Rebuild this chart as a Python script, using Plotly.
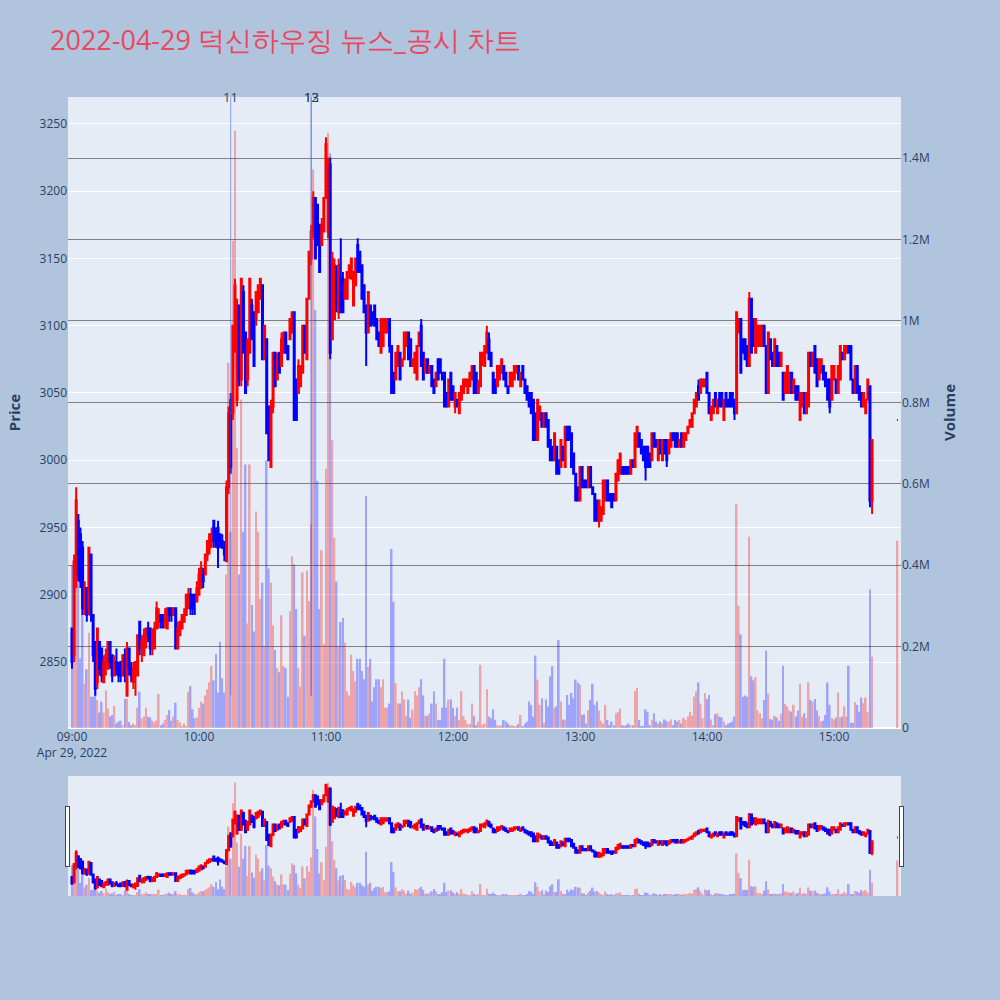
import pandas as pd
import plotly.graph_objects as go

# ---- data (1-minute candles, 2022-04-29, 09:00-15:18 + closing auction 15:30) ----
open_ = [
    2875,2855,2915,2955,2945,2935,2890,2905,2890,2930,
    2885,2865,2835,2865,2860,2835,2850,2845,2865,2855,
    2840,2850,2845,2850,2840,2855,2825,2860,2845,2835,
    2845,2840,2880,2860,2855,2865,2875,2875,2860,2860,
    2875,2880,2885,2885,2880,2875,2890,2890,2885,2890,
    2860,2870,2875,2880,2885,2890,2900,2900,2900,2895,
    2900,2905,2915,2915,2930,2935,2940,2955,2945,2950,
    2945,2940,2935,2925,2980,3045,3035,3085,3045,3115,
    3060,3125,3095,3060,3080,3115,3110,3105,3110,3120,
    3130,3075,3090,3040,2995,3040,3080,3060,3080,3070,
    3080,3095,3085,3090,3095,3110,3060,3050,3055,3065,
    3100,3075,3120,3150,3170,3195,3190,3175,3160,3170,
    3195,3170,3220,3090,3105,3140,3110,3135,3135,3120,
    3120,3140,3135,3115,3130,3160,3155,3145,3130,3115,
    3095,3115,3110,3115,3105,3095,3080,3085,3095,3095,
    3105,3085,3065,3060,3070,3080,3070,3075,3085,3095,
    3090,3070,3065,3060,3085,3100,3080,3065,3075,3065,
    3070,3060,3055,3075,3075,3065,3065,3050,3040,3065,
    3055,3040,3045,3035,3045,3050,3055,3050,3055,3060,
    3070,3065,3050,3055,3075,3070,3080,3090,3080,3065,
    3060,3055,3060,3065,3070,3065,3055,3055,3055,3060,
    3065,3070,3055,3070,3060,3055,3050,3050,3045,3035,
    3015,3030,3035,3025,3035,3030,3015,3010,3000,3010,
    3000,2995,3010,2995,3025,3025,3020,3005,2990,2980,
    2970,2995,2985,2985,2980,2995,2980,2975,2970,2955,
    2955,2960,2970,2985,2975,2975,2975,2970,2985,2990,
    2995,2995,2995,2995,2990,3000,2995,3010,3020,3015,
    3010,3010,3010,3005,3000,3020,3015,3000,3015,3000,
    3015,3015,3005,3010,3020,3020,3020,3010,3020,3010,
    3015,3020,3025,3025,3035,3040,3055,3050,3055,3055,
    3065,3050,3030,3035,3050,3035,3050,3050,3030,3050,
    3045,3050,3050,3045,3035,3095,3105,3090,3090,3085,
    3070,3120,3105,3080,3085,3085,3085,3100,3085,3050,
    3090,3080,3070,3085,3080,3070,3065,3050,3050,3050,
    3065,3050,3055,3055,3030,3040,3050,3035,3040,3080,
    3070,3085,3075,3060,3065,3070,3065,3060,3060,3045,
    3060,3060,3050,3060,3080,3075,3080,3085,3085,3060,
    3050,3070,3055,3050,3040,3035,3045,3055,2970,3030,
]
high_ = [
    2875,2930,2980,2960,2950,2940,2910,2905,2935,2930,
    2885,2865,2875,2865,2860,2855,2860,2865,2865,2855,
    2855,2860,2850,2850,2855,2860,2865,2860,2850,2850,
    2850,2870,2880,2870,2875,2875,2880,2875,2875,2880,
    2895,2890,2885,2885,2890,2890,2890,2890,2890,2890,
    2880,2880,2885,2890,2900,2905,2905,2900,2900,2910,
    2920,2925,2920,2930,2940,2945,2950,2955,2950,2955,
    2945,2945,2940,2985,3040,3050,3100,3135,3120,3115,
    3135,3130,3095,3090,3135,3120,3110,3125,3130,3135,
    3130,3100,3090,3040,3045,3080,3080,3080,3080,3095,
    3095,3095,3085,3105,3110,3110,3060,3075,3070,3100,
    3100,3120,3155,3175,3200,3195,3190,3175,3180,3195,
    3240,3225,3225,3155,3150,3145,3150,3165,3140,3135,
    3140,3145,3150,3140,3150,3165,3155,3145,3130,3115,
    3125,3115,3110,3115,3105,3095,3105,3105,3105,3105,
    3105,3085,3065,3080,3085,3080,3075,3095,3095,3095,
    3090,3075,3080,3085,3095,3105,3080,3075,3075,3070,
    3070,3060,3065,3075,3075,3065,3065,3050,3060,3065,
    3055,3050,3045,3050,3055,3060,3060,3060,3065,3070,
    3070,3065,3060,3080,3080,3085,3100,3095,3080,3065,
    3060,3070,3070,3075,3070,3065,3055,3065,3065,3070,
    3070,3070,3065,3070,3060,3055,3050,3050,3045,3035,
    3045,3040,3035,3035,3035,3030,3015,3010,3020,3010,
    3000,3015,3010,3025,3025,3025,3020,3005,2990,2980,
    2995,2995,2985,2985,2995,2995,2980,2975,2970,2970,
    2965,2985,2985,2985,2975,2975,2975,2990,3000,3005,
    2995,2995,2995,2995,3000,3000,3020,3025,3020,3015,
    3010,3010,3010,3005,3020,3020,3015,3015,3015,3015,
    3015,3015,3015,3020,3020,3020,3020,3015,3020,3020,
    3020,3025,3030,3035,3045,3050,3060,3060,3060,3060,
    3065,3050,3040,3045,3050,3045,3050,3050,3045,3050,
    3045,3050,3050,3045,3110,3105,3105,3090,3090,3085,
    3125,3120,3105,3105,3100,3100,3100,3100,3085,3095,
    3090,3080,3090,3085,3080,3080,3065,3065,3070,3065,
    3065,3060,3055,3055,3050,3050,3050,3050,3080,3080,
    3080,3085,3075,3075,3075,3070,3065,3060,3060,3070,
    3070,3060,3070,3085,3080,3085,3085,3085,3085,3060,
    3070,3070,3055,3050,3050,3045,3060,3055,3015,3030,
]
low_ = [
    2845,2850,2905,2910,2905,2885,2885,2880,2885,2880,
    2850,2825,2830,2840,2835,2835,2840,2845,2845,2835,
    2840,2840,2835,2835,2840,2835,2825,2840,2835,2830,
    2825,2840,2855,2850,2855,2860,2865,2855,2855,2860,
    2875,2875,2875,2875,2875,2875,2880,2880,2885,2860,
    2860,2870,2875,2880,2885,2890,2885,2885,2885,2895,
    2900,2905,2905,2915,2925,2930,2935,2935,2935,2920,
    2935,2935,2925,2925,2975,2990,3030,3080,3040,3055,
    3055,3080,3050,3055,3080,3090,3070,3100,3110,3120,
    3075,3075,3020,3000,2995,3035,3055,3060,3065,3070,
    3080,3080,3075,3090,3095,3030,3030,3050,3055,3065,
    3080,3075,3120,3145,3165,3150,3160,3140,3160,3170,
    3195,3165,3075,3090,3105,3110,3105,3110,3110,3120,
    3120,3135,3135,3115,3130,3140,3140,3120,3110,3070,
    3095,3100,3100,3100,3090,3085,3080,3085,3095,3095,
    3080,3050,3050,3060,3070,3060,3070,3075,3085,3075,
    3070,3070,3065,3060,3085,3070,3060,3065,3065,3065,
    3055,3050,3055,3060,3065,3060,3040,3040,3040,3045,
    3045,3035,3040,3035,3045,3050,3055,3050,3055,3060,
    3050,3050,3050,3055,3070,3070,3080,3075,3070,3050,
    3050,3055,3060,3065,3060,3055,3050,3055,3055,3060,
    3065,3060,3055,3060,3050,3045,3040,3035,3015,3015,
    3015,3030,3025,3025,3025,3010,3000,3000,3000,2990,
    2990,2995,3000,2995,3015,3015,2995,2990,2970,2970,
    2970,2980,2980,2980,2980,2980,2975,2955,2955,2950,
    2955,2960,2970,2970,2970,2965,2970,2970,2985,2990,
    2990,2990,2990,2990,2990,2995,2995,3010,3010,3005,
    3000,2985,2995,2995,3000,3010,3010,3000,3005,3000,
    3005,2995,3005,3010,3015,3010,3010,3010,3010,3010,
    3015,3020,3025,3025,3035,3040,3045,3050,3055,3055,
    3050,3035,3030,3035,3040,3035,3040,3040,3030,3040,
    3040,3040,3040,3030,3035,3095,3065,3080,3075,3070,
    3070,3080,3085,3080,3085,3085,3085,3085,3050,3050,
    3075,3070,3070,3070,3070,3070,3045,3050,3050,3050,
    3050,3050,3045,3045,3030,3040,3035,3035,3040,3070,
    3070,3065,3055,3060,3065,3060,3055,3045,3035,3045,
    3060,3050,3050,3060,3075,3075,3080,3080,3060,3050,
    3050,3050,3045,3040,3040,3035,3045,2965,2960,3030,
]
close_ = [
    2850,2925,2970,2915,2910,2890,2905,2885,2935,2885,
    2855,2830,2875,2845,2840,2850,2855,2865,2850,2840,
    2850,2845,2840,2840,2855,2840,2860,2845,2840,2845,
    2850,2870,2860,2865,2870,2875,2870,2860,2870,2875,
    2890,2885,2880,2880,2885,2890,2885,2885,2890,2860,
    2875,2880,2885,2885,2900,2900,2890,2890,2895,2905,
    2915,2920,2910,2930,2940,2945,2945,2940,2940,2935,
    2940,2935,2930,2980,3035,2995,3100,3130,3115,3060,
    3135,3080,3050,3090,3135,3090,3070,3125,3130,3135,
    3075,3100,3020,3000,3040,3080,3055,3075,3065,3090,
    3095,3080,3075,3105,3110,3030,3030,3070,3070,3100,
    3080,3120,3155,3170,3195,3150,3160,3140,3175,3195,
    3235,3220,3080,3150,3145,3115,3145,3110,3110,3130,
    3140,3145,3150,3140,3150,3140,3140,3120,3110,3095,
    3125,3100,3105,3100,3090,3085,3105,3105,3105,3105,
    3085,3050,3050,3080,3085,3060,3075,3095,3095,3075,
    3070,3075,3080,3085,3095,3070,3060,3075,3065,3070,
    3055,3050,3065,3060,3065,3060,3040,3040,3060,3045,
    3045,3050,3040,3050,3055,3060,3060,3060,3065,3070,
    3050,3050,3055,3080,3080,3085,3095,3075,3070,3050,
    3050,3070,3070,3075,3060,3055,3050,3065,3065,3070,
    3070,3060,3065,3060,3050,3045,3040,3035,3015,3015,
    3045,3040,3025,3035,3025,3010,3000,3000,3020,2990,
    2990,3015,3000,3025,3015,3015,2995,2990,2970,2970,
    2995,2980,2980,2980,2995,2980,2975,2955,2955,2970,
    2965,2985,2985,2970,2970,2965,2970,2990,3000,3005,
    2990,2990,2990,2990,3000,2995,3020,3025,3010,3005,
    3000,2995,2995,2995,3020,3010,3010,3015,3005,3015,
    3005,3000,3015,3020,3015,3010,3010,3015,3010,3020,
    3020,3025,3030,3035,3045,3050,3045,3060,3060,3060,
    3050,3035,3040,3045,3040,3045,3040,3040,3045,3040,
    3040,3040,3040,3035,3110,3105,3065,3080,3075,3070,
    3120,3080,3085,3105,3100,3100,3100,3085,3050,3095,
    3075,3070,3090,3070,3070,3080,3045,3065,3070,3065,
    3050,3060,3045,3045,3050,3050,3035,3050,3080,3070,
    3080,3065,3055,3075,3075,3060,3055,3045,3040,3070,
    3070,3050,3070,3085,3075,3085,3085,3080,3060,3050,
    3070,3050,3045,3040,3050,3045,3060,2970,3015,3030,
]
volume_thousands = [
    400,412,586,404,171,396,109,144,234,77,
    77,98,69,38,65,38,93,48,28,32,
    54,11,15,18,7,72,72,15,7,11,
    7,50,89,24,28,50,28,26,18,14,
    18,83,7,11,20,32,44,18,28,62,
    20,14,5,11,3,89,103,46,24,26,
    49,65,60,80,95,112,152,117,182,87,
    212,122,87,377,897,482,1197,1467,687,377,
    807,482,647,257,647,302,237,532,482,317,
    357,202,657,392,357,252,192,147,137,277,
    152,147,77,287,422,402,292,147,102,382,
    227,387,312,500,1372,1027,607,292,437,207,
    637,1462,1412,707,467,360,200,260,270,210,
    90,80,180,140,115,170,170,140,120,570,
    150,170,65,100,120,120,100,120,50,50,
    60,440,310,110,60,60,90,70,30,70,
    25,45,90,80,100,120,80,30,30,35,
    60,90,60,20,20,50,170,50,70,70,
    50,30,50,20,90,30,20,10,10,60,
    30,7,16,155,7,11,95,28,24,46,
    20,7,5,7,20,16,11,7,7,5,
    3,10,32,3,11,16,65,57,28,178,
    119,57,73,13,70,53,127,152,49,53,
    216,65,21,20,81,57,86,73,119,111,
    107,32,34,11,44,69,109,57,65,43,
    18,11,57,20,7,16,7,36,40,48,
    7,5,7,11,7,7,90,98,20,3,
    3,46,40,7,20,36,16,11,16,11,
    21,17,16,21,7,20,16,20,11,25,
    20,28,40,30,77,90,112,60,24,86,
    71,81,21,7,34,36,28,26,16,7,
    11,13,16,28,550,300,230,77,80,77,
    470,127,117,125,43,36,24,69,190,84,
    22,20,30,26,18,35,153,59,53,43,
    40,57,28,43,108,28,36,24,112,69,
    65,71,43,30,16,18,32,112,57,24,
    21,26,87,26,28,53,28,153,13,13,
    63,57,40,75,61,75,40,340,175,460,
]
session_start = "2022-04-29 09:00"
continuous_minutes = 379
closing_auction_time = "2022-04-29 15:30"

news_times = ["2022-04-29 10:15", "2022-04-29 10:53", "2022-04-29 10:53"]
news_labels = ["11", "12", "13"]

title_text = "2022-04-29 덕신하우징 뉴스_공시 차트"

# ---- build ----
times = list(pd.date_range(session_start, periods=continuous_minutes, freq="min"))
times.append(pd.Timestamp(closing_auction_time))
volumes = [v * 1000 for v in volume_thousands]
vol_colors = ["red" if c >= o else "blue" for o, c in zip(open_, close_)]

fig = go.Figure()
fig.add_trace(go.Candlestick(
    x=times, open=open_, high=high_, low=low_, close=close_,
    increasing=dict(line=dict(color="red", width=2), fillcolor="red"),
    decreasing=dict(line=dict(color="blue", width=2), fillcolor="blue"),
    name="Price", showlegend=False, yaxis="y",
))
fig.add_trace(go.Bar(
    x=times, y=volumes, marker=dict(color=vol_colors, line=dict(width=0)),
    opacity=0.3, name="Volume", yaxis="y2", showlegend=False,
))

y_top = 3270
y_bottom = 2801
for t, lab in zip(news_times, news_labels):
    fig.add_shape(type="line", xref="x", yref="y", x0=t, x1=t,
                  y0=min(low_), y1=y_top,
                  line=dict(color="rgba(65,105,225,0.6)", width=1))
    fig.add_annotation(x=t, xref="x", y=1, yref="paper", text=lab,
                       showarrow=False, yanchor="middle",
                       font=dict(size=13, color="#2a3f5f"))

fig.update_layout(
    width=1000, height=1000,
    paper_bgcolor="#B0C4DE", plot_bgcolor="#E5ECF6",
    title=dict(text=title_text, x=0.05, xanchor="left", y=0.959, yanchor="middle",
               font=dict(size=27, color="#E8495F")),
    margin=dict(l=68, r=99, t=97, b=272, autoexpand=False),
    showlegend=False,
    xaxis=dict(type="date", showgrid=False,
               range=["2022-04-29 08:58:07", "2022-04-29 15:31:40"],
               rangeslider=dict(visible=True, thickness=0.19,
                                range=["2022-04-29 08:58:07", "2022-04-29 15:31:40"])),
    yaxis=dict(title=dict(text="Price", font=dict(size=15, weight="bold")),
               range=[y_bottom, y_top], gridcolor="white", showgrid=True),
    yaxis2=dict(title=dict(text="Volume", font=dict(size=15, weight="bold")),
                overlaying="y", side="right", range=[0, 1.55e6],
                showgrid=True, gridcolor="gray", gridwidth=1),
)

fig.write_html(
    "out.html",
    config={"displayModeBar": False},
    post_script="document.body.style.margin='0';"
                "document.body.style.backgroundColor='#B0C4DE';",
)
